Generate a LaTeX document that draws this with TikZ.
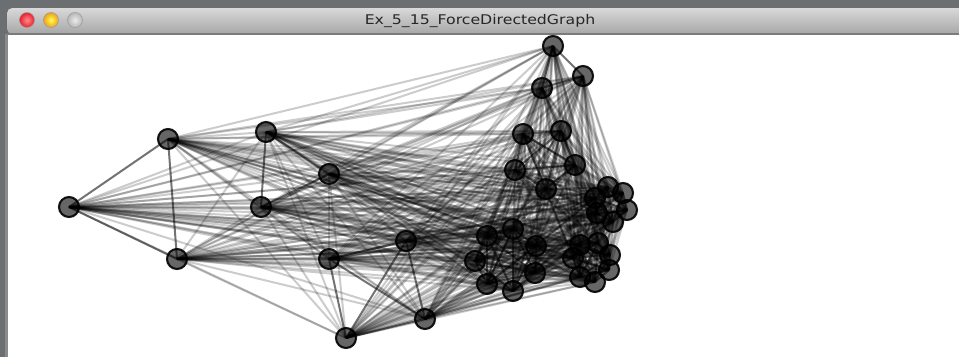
\documentclass[tikz,border=0pt]{standalone}
\usepackage{fontspec}
\setmainfont{DejaVu Sans}
\pgfdeclarelayer{bg}
\pgfdeclarelayer{edges}
\pgfsetlayers{bg,edges,main}
\definecolor{frame}{HTML}{6B6F71}
\definecolor{bartop}{HTML}{D9D9D9}
\definecolor{barbot}{HTML}{A6A6A6}
\definecolor{barline}{HTML}{7B7B7B}
\definecolor{lightred}{HTML}{E8202C}
\definecolor{lightorange}{HTML}{F0A020}
\begin{document}
\begin{tikzpicture}[x=0.75pt,y=-0.75pt,
  dot/.style={circle,draw=black,line width=1.6pt,fill=black,fill opacity=0.6,draw opacity=0.9,minimum size=15pt,inner sep=0pt},
  weak/.style={draw=black,opacity=0.2,line width=1.5pt},
  strong/.style={draw=black,opacity=0.55,line width=1.5pt},
  lamp/.style={draw=black!40,line width=0.4pt}]
\useasboundingbox (0,0) rectangle (959,357);
\begin{pgfonlayer}{bg}
\fill[frame] (0,0) rectangle (959,357);
\fill[frame!80!white] (5,34) rectangle (8,357);
\shade[top color=bartop,bottom color=barbot,rounded corners=4pt] (7,34) -- (7,8) -- (965,8) -- (965,34) -- cycle;
\fill[white] (8,35) rectangle (959,357);
\draw[barline,line width=1.2pt] (7,34) -- (959,34);
\shade[inner color=red!45!white,outer color=lightred,lamp] (27,20) circle (7.5);
\shade[inner color=yellow!70!white,outer color=lightorange,lamp] (51,20) circle (7.5);
\shade[inner color=black!8,outer color=black!28,lamp] (75,20) circle (7.5);
\end{pgfonlayer}
\node[text=black!85,inner sep=0pt] (title) at (480,21) {\scalebox{1.18}[1]{\fontsize{10}{12}\selectfont Ex\_5\_15\_ForceDirectedGraph}};
% nodes
\foreach \n/\x/\y in {A/69/207,B/168/139,C/177/259,D/266/132,E/261/207,F/329/174,G/329/259,H/406/241,I/346/338,J/425/319,
  K/553/46,L/583/76,M/542/88,N/523/134,O/561/131,P/515/170,Q/575/165,R/546/189,
  U1/608/187,U2/623/193,U3/595/198,U4/627/210,U5/597/213,U6/613/222,
  V1/487/236,V2/513/229,V3/536/246,V4/475/261,V5/535/273,V6/487/284,V7/513/291,
  W1/580/245,W2/598/243,W3/610/255,W4/573/258,W5/609/270,W6/580/277,W7/595/282}
  {\node[dot] (\n) at (\x,\y) {};}
\def\nodelist{A/1,B/1,C/1,D/2,E/2,F/2,G/3,H/3,I/3,J/3,K/4,L/4,M/4,N/5,O/5,P/5,Q/5,R/5,U1/6,U2/6,U3/6,U4/6,U5/6,U6/6,V1/7,V2/7,V3/7,V4/7,V5/7,V6/7,V7/7,W1/8,W2/8,W3/8,W4/8,W5/8,W6/8,W7/8}
\begin{pgfonlayer}{edges}
\foreach \a/\ga [count=\i] in \nodelist {
  \foreach \b/\gb [count=\j] in \nodelist {
    \ifnum\j>\i
      \ifnum\ga=\gb
        \draw[strong] (\a.center) -- (\b.center);
      \else
        \draw[weak] (\a.center) -- (\b.center);
      \fi
    \fi
  }
}
\end{pgfonlayer}
\end{tikzpicture}
\end{document}
